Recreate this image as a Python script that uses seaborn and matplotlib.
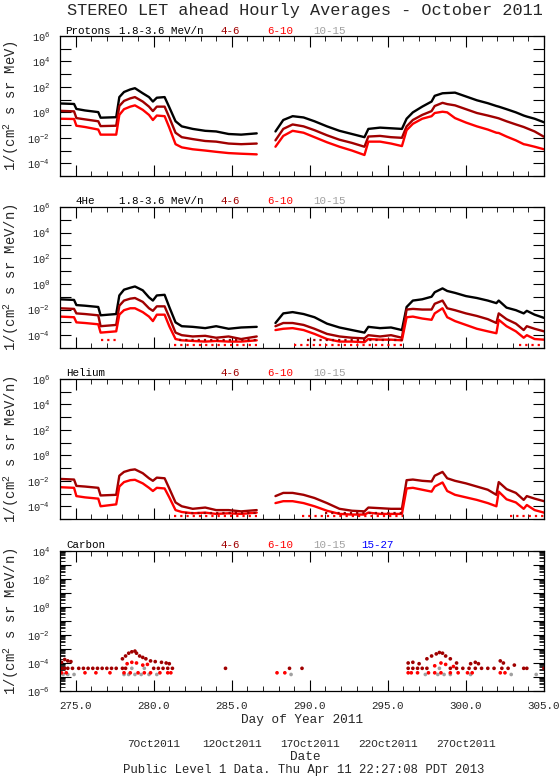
import numpy as np
import pandas as pd
import matplotlib
matplotlib.use("Agg")
import matplotlib.pyplot as plt
from matplotlib.ticker import FixedLocator, FuncFormatter, MultipleLocator, LogLocator, NullLocator, NullFormatter
from matplotlib.transforms import blended_transform_factory
import seaborn as sns

nan = np.nan

# day of year sample points
doy = [274.0, 274.9, 275.05, 275.6, 276.45, 276.6, 277.6, 277.8, 278.1, 278.5,
       278.8, 279.3, 279.7, 279.95, 280.2, 280.7, 281.0, 281.4, 281.8, 282.5,
       283.3, 284.0, 284.8, 285.6, 286.6, 287.2, 287.8, 288.3, 288.9, 289.6,
       290.3, 291.1, 291.9, 292.7, 293.5, 293.75, 294.5, 295.2, 295.9, 296.2,
       296.6, 297.2, 297.8, 298.0, 298.5, 298.8, 299.3, 300.0, 300.7, 301.4,
       301.95, 302.1, 302.6, 303.2, 303.7, 303.9, 304.4, 305.0]

# log10 flux values
prot_18_36 = [0.70, 0.66, 0.27, 0.15, 0.02, -0.42, -0.38, 1.2, 1.6, 1.8,
              1.9, 1.5, 1.2, 0.85, 1.15, 1.2, 0.4, -0.7, -1.1, -1.3,
              -1.45, -1.5, -1.7, -1.75, -1.65, nan, -1.5, -0.6, -0.3, -0.4,
              -0.7, -1.1, -1.45, -1.7, -1.95, -1.3, -1.2, -1.25, -1.3, -0.5,
              0.0, 0.45, 0.85, 1.3, 1.5, 1.52, 1.55, 1.25, 0.95, 0.72,
              0.5, 0.45, 0.25, 0.0, -0.25, -0.33, -0.5, -0.78]
prot_4_6 = [0.12, 0.08, -0.45, -0.55, -0.7, -1.08, -1.05, 0.5, 0.9, 1.1,
            1.2, 0.85, 0.45, 0.1, 0.45, 0.45, -0.4, -1.6, -1.95, -2.1,
            -2.25, -2.3, -2.45, -2.5, -2.45, nan, -2.2, -1.3, -0.95, -1.1,
            -1.4, -1.8, -2.15, -2.4, -2.7, -1.9, -1.85, -1.95, -2.0, -1.1,
            -0.6, -0.2, 0.1, 0.5, 0.75, 0.65, 0.55, 0.25, -0.05, -0.25,
            -0.42, -0.47, -0.7, -0.95, -1.15, -1.25, -1.5, -1.92]
prot_6_10 = [-0.5, -0.52, -1.05, -1.15, -1.35, -1.75, -1.75, -0.2, 0.25, 0.45,
             0.55, 0.2, -0.2, -0.6, -0.25, -0.3, -1.2, -2.5, -2.75, -2.9,
             -3.0, -3.1, -3.2, -3.25, -3.3, nan, -2.7, -1.85, -1.45, -1.6,
             -1.95, -2.35, -2.7, -3.0, -3.35, -2.3, -2.3, -2.45, -2.65, -1.4,
             -0.9, -0.5, -0.3, -0.05, 0.05, 0.0, -0.45, -0.8, -1.1, -1.35,
             -1.6, -1.62, -1.9, -2.2, -2.5, -2.55, -2.7, -2.9]

he4_18_36 = [-1.2, -1.25, -1.65, -1.7, -1.8, -2.45, -2.35, -0.9, -0.45, -0.3,
             -0.2, -0.5, -1.05, -1.3, -0.9, -0.85, -1.8, -3.0, -3.3, -3.35,
             -3.45, -3.3, -3.5, -3.4, -3.35, nan, -3.05, -2.3, -2.2, -2.35,
             -2.6, -3.1, -3.4, -3.6, -3.8, -3.35, -3.45, -3.4, -3.6, -1.8,
             -1.3, -1.2, -1.0, -0.65, -0.35, -0.55, -0.7, -0.95, -1.1, -1.3,
             -1.5, -1.3, -1.85, -2.05, -2.3, -2.1, -2.4, -2.65]
he4_4_6 = [-1.9, -1.95, -2.3, -2.35, -2.45, -3.3, -3.2, -1.7, -1.3, -1.15,
           -1.1, -1.4, -1.9, -2.1, -1.75, -1.75, -2.6, -3.8, -4.0, -4.1,
           -4.05, -4.2, -4.1, -4.3, -4.1, nan, -3.3, -3.05, -3.05, -3.2,
           -3.5, -3.9, -4.1, -4.2, -4.25, -4.0, -4.1, -4.0, -4.2, -2.0,
           -1.95, -2.0, -2.0, -1.55, -1.3, -1.9, -2.05, -2.3, -2.5, -2.75,
           -3.05, -2.3, -2.75, -3.1, -3.6, -3.3, -3.5, -3.7]
he4_6_10 = [-2.55, -2.6, -3.0, -3.05, -3.15, -3.8, -3.7, -2.4, -2.05, -1.9,
            -1.9, -2.2, -2.55, -2.9, -2.4, -2.4, -3.3, -4.3, -4.4, -4.45,
            -4.5, -4.45, -4.5, -4.5, -4.4, nan, -3.6, -3.5, -3.45, -3.6,
            -3.9, -4.3, -4.5, -4.5, -4.55, -4.3, -4.35, -4.35, -4.4, -2.6,
            -2.55, -2.7, -2.8, -2.3, -1.9, -2.6, -2.9, -3.2, -3.5, -3.7,
            -3.85, -2.8, -3.3, -3.7, -4.2, -4.0, -4.3, -4.35]

hel_4_6 = [-1.85, -1.9, -2.4, -2.45, -2.55, -3.15, -3.1, -1.6, -1.3, -1.15,
           -1.1, -1.4, -1.8, -2.0, -1.75, -1.8, -2.6, -3.7, -4.0, -4.2,
           -4.1, -4.3, -4.3, -4.4, -4.3, nan, -3.2, -2.95, -2.95, -3.1,
           -3.35, -3.75, -4.2, -4.35, -4.4, -4.1, -4.15, -4.2, -4.2, -1.95,
           -1.9, -2.0, -2.05, -1.6, -1.3, -1.8, -2.0, -2.2, -2.45, -2.7,
           -3.1, -2.1, -2.65, -2.95, -3.5, -3.2, -3.4, -3.6]
hel_6_10 = [-2.5, -2.55, -3.2, -3.3, -3.4, -4.0, -3.85, -2.45, -2.1, -1.95,
            -1.92, -2.2, -2.55, -2.8, -2.55, -2.6, -3.3, -4.3, -4.45, -4.55,
            -4.5, -4.6, -4.55, -4.6, -4.5, nan, -3.75, -3.6, -3.6, -3.75,
            -4.0, -4.35, -4.6, -4.65, -4.65, -4.5, -4.6, -4.6, -4.6, -2.6,
            -2.55, -2.7, -2.85, -2.45, -2.13, -2.8, -3.1, -3.3, -3.5, -3.75,
            -4.0, -2.85, -3.45, -3.7, -4.2, -3.9, -4.3, -4.5]

# one-count floor rows (band, start, end, log10 level)
he4_floor_band = ["4-6", "4-6", "6-10", "6-10", "6-10", "6-10"]
he4_floor_start = [281.6, 289.8, 281.3, 289.0, 303.4, 276.6]
he4_floor_end = [286.6, 296.0, 286.6, 296.0, 305.0, 277.6]
he4_floor_level = [-4.4, -4.4, -4.75, -4.75, -4.75, -4.4]
hel_floor_band = ["4-6", "4-6", "6-10", "6-10", "6-10"]
hel_floor_start = [282.0, 291.0, 281.3, 289.5, 302.8]
hel_floor_end = [286.6, 296.0, 286.6, 296.0, 305.0]
hel_floor_level = [-4.5, -4.5, -4.78, -4.78, -4.78]

# carbon scattered points
c46_doy = [274.1, 274.3, 274.5, 274.8, 275.2, 275.5, 275.8, 276.1, 276.4, 276.7,
           277.0, 277.3, 277.6, 278.0, 278.2, 280.0, 280.3, 280.6, 280.9, 281.2,
           284.6, 288.7, 289.5, 296.3, 296.6, 296.9, 297.2, 297.5, 299.0, 299.4,
           299.8, 300.2, 300.6, 301.0, 301.4, 301.8, 302.3, 302.7, 303.7, 303.9,
           305.0,
           274.1, 274.3, 274.5, 274.7, 278.0, 278.2, 278.4, 278.6, 278.8, 278.9,
           279.1, 279.3, 279.5, 279.8, 280.1, 280.5, 280.8, 281.0, 296.3, 296.6,
           297.0, 297.5, 297.8, 298.1, 298.3, 298.5, 298.7, 299.0, 299.4, 300.3,
           300.6, 300.8, 302.2, 302.4, 303.1]
c46_log = [-4.38] * 41 + [
    -3.95, -3.75, -3.85, -3.9, -3.7, -3.5, -3.3, -3.2, -3.15, -3.3,
    -3.5, -3.6, -3.7, -3.85, -3.9, -3.95, -4.0, -4.05, -4.0, -3.95,
    -4.05, -3.7, -3.5, -3.35, -3.25, -3.3, -3.5, -3.7, -4.0, -4.05,
    -3.95, -4.05, -3.85, -4.0, -4.15]
c610_doy = [274.1, 274.4, 275.6, 276.3, 277.2, 278.1, 278.5, 279.0, 279.4, 279.8,
            280.4, 280.9, 281.1, 287.9, 288.4, 296.3, 296.5, 296.9, 297.6, 298.0,
            298.4, 299.0, 299.5, 300.1, 300.4, 302.2, 302.5,
            278.3, 278.6, 278.9, 279.3, 279.6, 298.0, 298.4, 298.7, 299.2]
c610_log = [-4.7] * 27 + [-4.05, -3.95, -4.0, -4.15, -4.1, -4.2, -4.0, -4.1, -4.25]
c1015_doy = [274.2, 274.5, 274.9, 278.1, 278.4, 278.8, 279.2, 279.7, 280.2, 288.8,
             297.4, 298.2, 298.6, 299.0, 300.3, 302.9, 304.5,
             278.6, 279.4, 298.3]
c1015_log = [-4.82] * 17 + [-4.38, -4.38, -4.38]

K, DR, R, G, B = "black", "#a00000", "#ff0000", "#a0a0a0", "#0000ff"
band_colors = {"1.8-3.6": K, "4-6": DR, "6-10": R, "10-15": G, "15-27": B}

sns.set_style("ticks")
plt.rcParams["font.family"] = ["Liberation Mono", "DejaVu Sans Mono"]
plt.rcParams["mathtext.default"] = "regular"


def trace_frame(named):
    rows = []
    for name, logs in named.items():
        seg = 0
        for t, v in zip(doy, logs):
            if np.isnan(v):
                seg += 1
                continue
            rows.append((t, 10 ** v, name, seg))
    return pd.DataFrame(rows, columns=["doy", "flux", "band", "seg"])


def floor_frame(bands, starts, ends, levels):
    rows = []
    for i, (b, s, e, lv) in enumerate(zip(bands, starts, ends, levels)):
        rows.append((s, 10 ** lv, b, i))
        rows.append((e, 10 ** lv, b, i))
    return pd.DataFrame(rows, columns=["doy", "flux", "band", "seg"])


W, H = 559, 780
fig = plt.figure(figsize=(W / 100, H / 100), dpi=100)
tops = [36, 207, 379, 551]
bottoms = [176, 348, 519, 691]
axes = [fig.add_axes([60 / W, 1 - b / H, 484 / W, (b - t) / H]) for t, b in zip(tops, bottoms)]

panels = [
    ({"1.8-3.6": prot_18_36, "4-6": prot_4_6, "6-10": prot_6_10}, None),
    ({"1.8-3.6": he4_18_36, "4-6": he4_4_6, "6-10": he4_6_10},
     (he4_floor_band, he4_floor_start, he4_floor_end, he4_floor_level)),
    ({"4-6": hel_4_6, "6-10": hel_6_10},
     (hel_floor_band, hel_floor_start, hel_floor_end, hel_floor_level)),
]

for ax, (series, floors) in zip(axes[:3], panels):
    ax.set_yscale("log")
    df = trace_frame(series)
    sns.lineplot(data=df, x="doy", y="flux", hue="band", units="seg", estimator=None,
                 palette=band_colors, linewidth=1.7, legend=False, sort=False, ax=ax)
    if floors is not None:
        fl = floor_frame(*floors)
        sns.lineplot(data=fl, x="doy", y="flux", hue="band", units="seg", estimator=None,
                     palette=band_colors, linewidth=1.6, linestyle=(0, (1, 1.8)),
                     legend=False, sort=False, ax=ax)

ax4 = axes[3]
ax4.set_yscale("log")
carbon = pd.DataFrame({
    "doy": c46_doy + c610_doy + c1015_doy,
    "flux": [10 ** v for v in c46_log + c610_log + c1015_log],
    "band": ["4-6"] * len(c46_doy) + ["6-10"] * len(c610_doy) + ["10-15"] * len(c1015_doy),
})
sns.scatterplot(data=carbon.iloc[::-1], x="doy", y="flux", hue="band", palette=band_colors,
                s=7, marker="o", linewidth=0, legend=False, ax=ax4)

limits = [(-5, 6), (-5, 6), (-5, 6), (-6, 4)]


def decade_label(v, pos):
    e = int(round(np.log10(v)))
    return "$10^{%d}$" % e if e % 2 == 0 else ""


for i, ax in enumerate(axes):
    lo, hi = limits[i]
    ax.set_xlim(274, 305)
    ax.set_ylim(10.0 ** lo, 10.0 ** hi)
    ax.yaxis.set_major_locator(FixedLocator(10.0 ** np.arange(lo, hi + 1)))
    ax.yaxis.set_major_formatter(FuncFormatter(decade_label))
    if i == 3:
        ax.yaxis.set_minor_locator(LogLocator(base=10, subs=np.arange(2, 10), numticks=100))
    else:
        ax.yaxis.set_minor_locator(NullLocator())
    ax.yaxis.set_minor_formatter(NullFormatter())
    ax.xaxis.set_major_locator(MultipleLocator(5))
    ax.xaxis.set_minor_locator(MultipleLocator(1))
    ax.tick_params(which="both", direction="in", top=True, right=True, color="black")
    ax.tick_params(which="major", length=8, width=0.8)
    ax.tick_params(which="minor", length=3.5, width=0.6)
    ax.tick_params(axis="y", labelsize=7.5, pad=7)
    ax.tick_params(axis="x", labelsize=7.8, pad=7)
    for sp in ax.spines.values():
        sp.set_linewidth(0.9)
        sp.set_color("black")
    ax.set_xlabel("")
    ax.set_ylabel("")
    if i < 3:
        ax.set_xticklabels([])
    else:
        ax.xaxis.set_major_formatter(FuncFormatter(lambda v, p: "%.1f" % v))

headings = [
    [("Protons", 274.3, K), ("1.8-3.6 MeV/n", 277.8, K), ("4-6", 284.25, DR),
     ("6-10", 287.25, R), ("10-15", 290.2, G)],
    [("4He", 275.0, K), ("1.8-3.6 MeV/n", 277.8, K), ("4-6", 284.25, DR),
     ("6-10", 287.25, R), ("10-15", 290.2, G)],
    [("Helium", 274.4, K), ("4-6", 284.25, DR), ("6-10", 287.25, R), ("10-15", 290.2, G)],
    [("Carbon", 274.4, K), ("4-6", 284.25, DR), ("6-10", 287.25, R), ("10-15", 290.2, G),
     ("15-27", 293.3, B)],
]
for ax, items, t, b in zip(axes, headings, tops, bottoms):
    tr = blended_transform_factory(ax.transData, ax.transAxes)
    for txt, x, c in items:
        ax.text(x, 1 + 5.5 / (b - t), txt, color=c, fontsize=7.8, ha="left", va="center",
                transform=tr)

ylabels = ["1/(cm$^2$ s sr MeV)", "1/(cm$^2$ s sr MeV/n)",
           "1/(cm$^2$ s sr MeV/n)", "1/(cm$^2$ s sr MeV/n)"]
for lab, t, b in zip(ylabels, tops, bottoms):
    fig.text(11 / W, 1 - (t + b) / 2 / H, lab, rotation=90, ha="center", va="center",
             fontsize=10)

fig.text(305 / W, 1 - 11 / H, "STEREO LET ahead Hourly Averages - October 2011",
         ha="center", va="center", fontsize=12.2)
fig.text(302 / W, 1 - 720.5 / H, "Day of Year 2011", ha="center", va="center", fontsize=9.2)

date_doy = [280, 285, 290, 295, 300]
date_text = ["7Oct2011", "12Oct2011", "17Oct2011", "22Oct2011", "27Oct2011"]
tr4 = blended_transform_factory(ax4.transData, fig.transFigure)
for d, txt in zip(date_doy, date_text):
    ax4.text(d, 1 - 744 / H, txt, transform=tr4, ha="center", va="center", fontsize=8)
fig.text(305 / W, 1 - 757 / H, "Date", ha="center", va="center", fontsize=9.2)
fig.text(304 / W, 1 - 770.5 / H, "Public Level 1 Data. Thu Apr 11 22:27:08 PDT 2013",
         ha="center", va="center", fontsize=8.8)

fig.savefig("out.png", dpi=100)
